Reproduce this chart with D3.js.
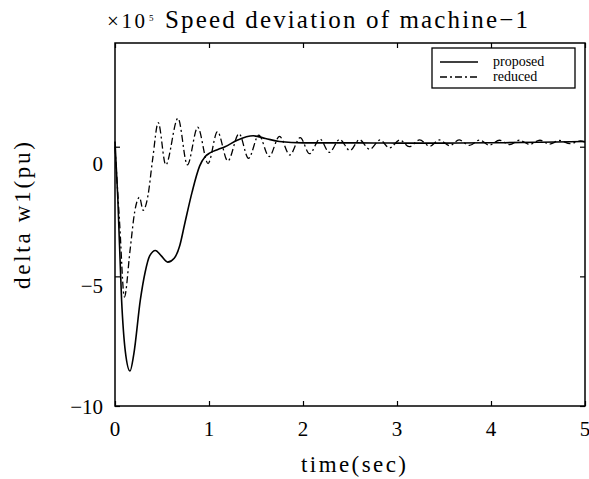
<!DOCTYPE html>
<html><head><meta charset="utf-8">
<script src="https://cdn.jsdelivr.net/npm/d3@7"></script>
<style>body{margin:0;background:#fff}svg{display:block}</style>
</head><body>
<script>
const xTicks = [0,1,2,3,4,5];
const yTicks = [0,-5,-10];
const yTickLabels = ["0","\u22125","\u221210"];
const proposedT = [0,0.03,0.07,0.11,0.16,0.2,0.27,0.32,0.37,0.43,0.49,0.56,0.63,0.69,0.74,0.82,0.9,0.96,1.01,1.1,1.17,1.3,1.47,1.6,1.75,2.0,2.5,3.0,3.5,4.0,4.5,5.0];
const proposedV = [0.2,-2,-5.9,-7.9,-8.65,-8.0,-5.9,-4.85,-4.2,-4.0,-4.2,-4.45,-4.3,-3.8,-3.0,-1.75,-0.75,-0.38,-0.24,-0.1,0.0,0.25,0.42,0.32,0.2,0.15,0.15,0.14,0.14,0.15,0.17,0.2];
const reducedT = [0,0.05,0.1,0.16,0.21,0.26,0.3,0.35,0.4,0.46,0.54,0.67,0.77,0.88,0.99,1.09,1.2,1.32,1.42,1.53,1.64,1.75,1.86,1.97,2.07,2.18,2.28,2.39,2.5,2.6,2.71,2.82,2.92,3.03,3.13,3.24,3.35,3.45,3.56,3.66,3.77,3.88,3.98,4.09,4.2,4.3,4.41,4.52,4.62,4.73,4.84,4.95,5.0];
const reducedV = [0,-3,-5.8,-4,-2.5,-1.95,-2.45,-1.9,-0.5,0.93,-0.7,1.1,-0.7,0.75,-0.65,0.58,-0.55,0.5,-0.45,0.45,-0.38,0.4,-0.32,0.35,-0.27,0.3,-0.22,0.28,-0.15,0.27,-0.1,0.26,-0.05,0.26,0.0,0.26,0.02,0.26,0.04,0.26,0.05,0.26,0.06,0.25,0.08,0.25,0.09,0.25,0.1,0.24,0.12,0.22,0.18];
const title = "Speed deviation of machine\u22121";
const xLabel = "time(sec)";
const yLabel = "delta w1(pu)";
const legendNames = ["proposed","reduced"];

const W = 589, H = 479;
const L = 115, R = 585, T = 43, B = 406;
const font = "'Liberation Serif','Times New Roman',serif";
const svg = d3.select("body").append("svg").attr("width",W).attr("height",H);
const x = d3.scaleLinear().domain([0,5]).range([L,R]);
const y = d3.scaleLinear().domain([-10,4]).range([B,T]);
const yLab = d3.scaleLinear().domain([-10,0]).range([407,164]);

svg.append("rect").attr("x",L).attr("y",T).attr("width",R-L).attr("height",B-T)
  .attr("fill","none").attr("stroke","#000").attr("stroke-width",1.5);

const gx = svg.append("g").attr("transform",`translate(0,${B})`)
  .call(d3.axisBottom(x).tickValues(xTicks).tickSize(-5).tickFormat(""));
const gxt = svg.append("g").attr("transform",`translate(0,${T})`)
  .call(d3.axisTop(x).tickValues(xTicks).tickSize(-5).tickFormat(""));
const gy = svg.append("g").attr("transform",`translate(${L},0)`)
  .call(d3.axisLeft(y).tickValues(yTicks).tickSize(-5).tickFormat(""));
const gyr = svg.append("g").attr("transform",`translate(${R},0)`)
  .call(d3.axisRight(y).tickValues(yTicks).tickSize(-5).tickFormat(""));
[gx,gxt,gy,gyr].forEach(g=>{g.select(".domain").remove();g.selectAll("line").attr("stroke","#000").attr("stroke-width",1.2);});

svg.append("g").selectAll("text").data(xTicks).join("text")
  .attr("x",d=>x(d)).attr("y",436).attr("text-anchor","middle")
  .attr("font-family",font).attr("font-size",21).text(d=>d);
svg.append("g").selectAll("text").data(yTicks).join("text")
  .attr("x",103).attr("y",d=>yLab(d)).attr("dy","0.35em").attr("text-anchor","end")
  .attr("font-family",font).attr("font-size",21).text((d,i)=>yTickLabels[i]);

svg.append("text").attr("x",301).attr("y",472).attr("font-family",font).attr("font-size",23)
  .attr("textLength",105).attr("lengthAdjust","spacing").text(xLabel);
svg.append("text").attr("transform","translate(30,289) rotate(-90)").attr("font-family",font).attr("font-size",23)
  .attr("textLength",147).attr("lengthAdjust","spacing").text(yLabel);
svg.append("text").attr("x",107).attr("y",28).attr("font-family",font).attr("font-size",21)
  .attr("textLength",38).attr("lengthAdjust","spacing").text("\u00d710");
svg.append("text").attr("x",149).attr("y",21).attr("font-family",font).attr("font-size",9).text("5");
svg.append("text").attr("x",165).attr("y",28).attr("font-family",font).attr("font-size",25)
  .attr("textLength",363).attr("lengthAdjust","spacing").text(title);

const line = d3.line().x(d=>x(d[0])).y(d=>y(d[1])).curve(d3.curveMonotoneX);
const pData = proposedT.map((t,i)=>[t,proposedV[i]]);
const rData = reducedT.map((t,i)=>[t,reducedV[i]]);
svg.append("path").datum(rData).attr("d",line).attr("fill","none").attr("stroke","#000")
  .attr("stroke-width",1.3).attr("stroke-dasharray","7,3,2,3");
svg.append("path").datum(pData).attr("d",line).attr("fill","none").attr("stroke","#000")
  .attr("stroke-width",1.6);

const lg = svg.append("g");
lg.append("rect").attr("x",432).attr("y",48).attr("width",143).attr("height",40)
  .attr("fill","#fff").attr("stroke","#000").attr("stroke-width",1.3);
const dashes = [null,"7,3,2,3"];
legendNames.forEach((n,i)=>{
  const yy = 62 + i*15;
  lg.append("line").attr("x1",440).attr("x2",478).attr("y1",yy).attr("y2",yy)
    .attr("stroke","#000").attr("stroke-width",1.4).attr("stroke-dasharray",dashes[i]);
  lg.append("text").attr("x",493).attr("y",yy).attr("dy","0.32em").attr("font-family",font)
    .attr("font-size",14).text(n);
});
</script>
</body></html>
